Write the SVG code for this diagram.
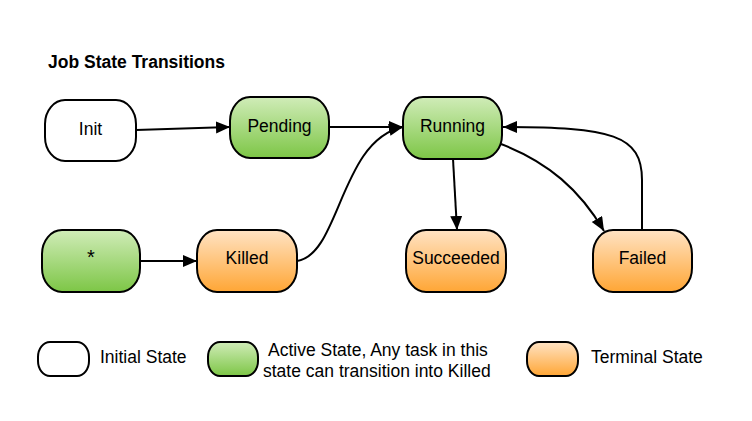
<svg xmlns="http://www.w3.org/2000/svg" width="752" height="421" viewBox="0 0 752 421">
<style>
.n{stroke:#000;stroke-width:2}
.w{fill:#fff}
.g{fill:url(#gg)}
.o{fill:url(#go)}
text{font-family:"Liberation Sans",Arial,sans-serif;font-size:17.5px;fill:#000}
.c{text-anchor:middle}
.e{fill:none;stroke:#000;stroke-width:2}
</style>
<defs>
<linearGradient id="gg" x1="0" y1="0" x2="0" y2="1">
<stop offset="0" stop-color="#d0ecb8"/>
<stop offset="1" stop-color="#7dc646"/>
</linearGradient>
<linearGradient id="go" x1="0" y1="0" x2="0" y2="1">
<stop offset="0" stop-color="#ffe3c4"/>
<stop offset="1" stop-color="#ffa635"/>
</linearGradient>
<marker id="ah" markerUnits="userSpaceOnUse" markerWidth="16" markerHeight="14" refX="14" refY="6" orient="auto">
<path d="M0,0 L14,6 L0,12 Z" fill="#000"/>
</marker>
</defs>
<rect width="752" height="421" fill="#fff"/>
<text x="48" y="68" style="font-weight:bold">Job State Transitions</text>

<g id="edges">
<path class="e" d="M136,130 L230,127" marker-end="url(#ah)"/>
<path class="e" d="M329,127 L403,127" marker-end="url(#ah)"/>
<path class="e" d="M140,261 L197,261" marker-end="url(#ah)"/>
<path class="e" d="M297,261 C340,255 340,140 403,127" marker-end="url(#ah)"/>
<path class="e" d="M453,159 L457,230" marker-end="url(#ah)"/>
<path class="e" d="M501,144 C548,162 580,190 604,231" marker-end="url(#ah)"/>
<path class="e" d="M642,230 L642,180 C642,135 612,127 503,127" marker-end="url(#ah)"/>
</g>

<g id="init"><rect class="n w" x="45" y="100" width="91" height="61" rx="20" ry="24"/><text class="c" x="90.5" y="135">Init</text></g>
<g id="pending"><rect class="n g" x="230" y="97" width="99" height="61" rx="20" ry="24"/><text class="c" x="279.5" y="131.5">Pending</text></g>
<g id="running"><rect class="n g" x="403" y="97" width="99" height="62" rx="20" ry="24"/><text class="c" x="452.5" y="131.5">Running</text></g>
<g id="star"><rect class="n g" x="42" y="230" width="98" height="62" rx="20" ry="24"/><text class="c" x="91" y="264" style="font-size:20px">*</text></g>
<g id="killed"><rect class="n o" x="197" y="230" width="100" height="62" rx="20" ry="24"/><text class="c" x="247" y="264">Killed</text></g>
<g id="succeeded"><rect class="n o" x="406" y="230" width="100" height="62" rx="20" ry="24"/><text class="c" x="456" y="264">Succeeded</text></g>
<g id="failed"><rect class="n o" x="593" y="230" width="99" height="62" rx="20" ry="24"/><text class="c" x="642.5" y="264">Failed</text></g>

<g id="legend-initial"><rect class="n w" x="38" y="342" width="51" height="34" rx="12" ry="15"/><text x="100" y="363">Initial State</text></g>
<g id="legend-active"><rect class="n g" x="208" y="342" width="50" height="34" rx="12" ry="15"/><text x="268" y="356">Active State, Any task in this</text><text x="263" y="377">state can transition into Killed</text></g>
<g id="legend-terminal"><rect class="n o" x="527" y="342" width="51" height="34" rx="12" ry="15"/><text x="591" y="363">Terminal State</text></g>
</svg>
